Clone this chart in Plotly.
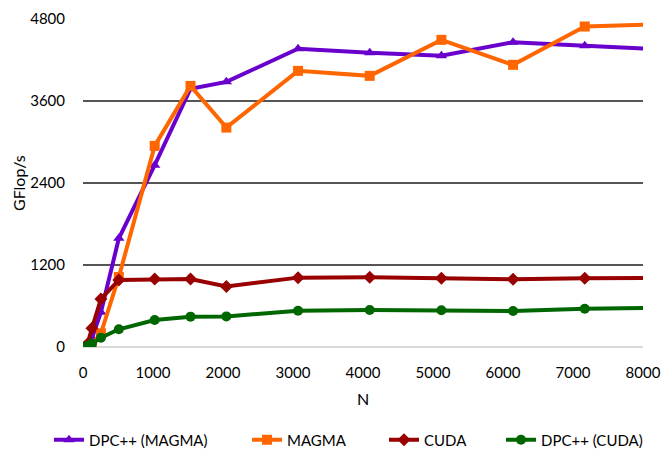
import plotly.graph_objects as go

N = [32, 64, 128, 256, 512, 1024, 1536, 2048, 3072, 4096, 5120, 6144, 7168, 8192]
dpc_magma = [2, 15, 130, 510, 1590, 2660, 3780, 3880, 4365, 4305, 4262, 4460, 4407, 4360]
magma = [1, 8, 35, 200, 1025, 2943, 3821, 3211, 4041, 3968, 4495, 4129, 4690, 4720]
cuda = [5, 45, 273, 703, 981, 995, 995, 885, 1015, 1020, 1006, 991, 1006, 1012]
dpc_cuda = [3, 15, 50, 136, 259, 395, 444, 448, 530, 542, 537, 527, 561, 573]

series = [
    ("DPC++ (MAGMA)", dpc_magma, "#6A00CC", "triangle-up"),
    ("MAGMA", magma, "#FF6600", "square"),
    ("CUDA", cuda, "#990000", "diamond"),
    ("DPC++ (CUDA)", dpc_cuda, "#006600", "circle"),
]
legend_text_x = [89, 287, 424, 541]

fig = go.Figure()
legends = {}
for i, (name, ys, color, sym) in enumerate(series):
    lname = "legend" if i == 0 else f"legend{i + 1}"
    fig.add_trace(go.Scatter(
        x=N, y=ys, name=name, legend=lname,
        mode="lines+markers",
        line=dict(color=color, width=4),
        marker=dict(color=color, symbol=sym, size=10),
    ))
    legends[lname] = dict(orientation="h", xref="container", yref="container",
                          x=(legend_text_x[i] - 40) / 662, xanchor="left",
                          y=1 - 440 / 455, yanchor="middle",
                          font=dict(size=15), bgcolor="rgba(0,0,0,0)")

font = "Lato, Noto Sans, sans-serif"
fig.update_layout(
    width=662, height=455,
    margin=dict(l=83, r=19, t=19, b=108, autoexpand=False),
    plot_bgcolor="white", paper_bgcolor="white",
    font=dict(family=font, size=15, color="#000000"),
    showlegend=True,
    xaxis=dict(range=[0, 8000], dtick=1000, tick0=0, showgrid=False,
               zeroline=False, showline=False, automargin=False,
               ticks="outside", ticklen=12, tickcolor="rgba(0,0,0,0)"),
    yaxis=dict(range=[0, 4800], dtick=1200, tick0=0, showgrid=True,
               gridcolor="#555555", gridwidth=1.5, automargin=False,
               zeroline=True, zerolinecolor="#D9D9D9", zerolinewidth=1.5,
               showline=False,
               ticks="outside", ticklen=14, tickcolor="rgba(0,0,0,0)"),
    annotations=[
        dict(text="N", xref="paper", yref="paper", x=0.5, y=-0.1585,
             showarrow=False, xanchor="center", yanchor="middle", font=dict(size=16)),
        dict(text="GFlop/s", xref="paper", yref="paper", x=-0.116, y=0.5,
             showarrow=False, xanchor="center", yanchor="middle", textangle=-90,
             font=dict(size=16)),
    ],
    **legends,
)

fig.write_html("out.html", config={"displayModeBar": False},
               post_script="document.body.style.margin='0';")
